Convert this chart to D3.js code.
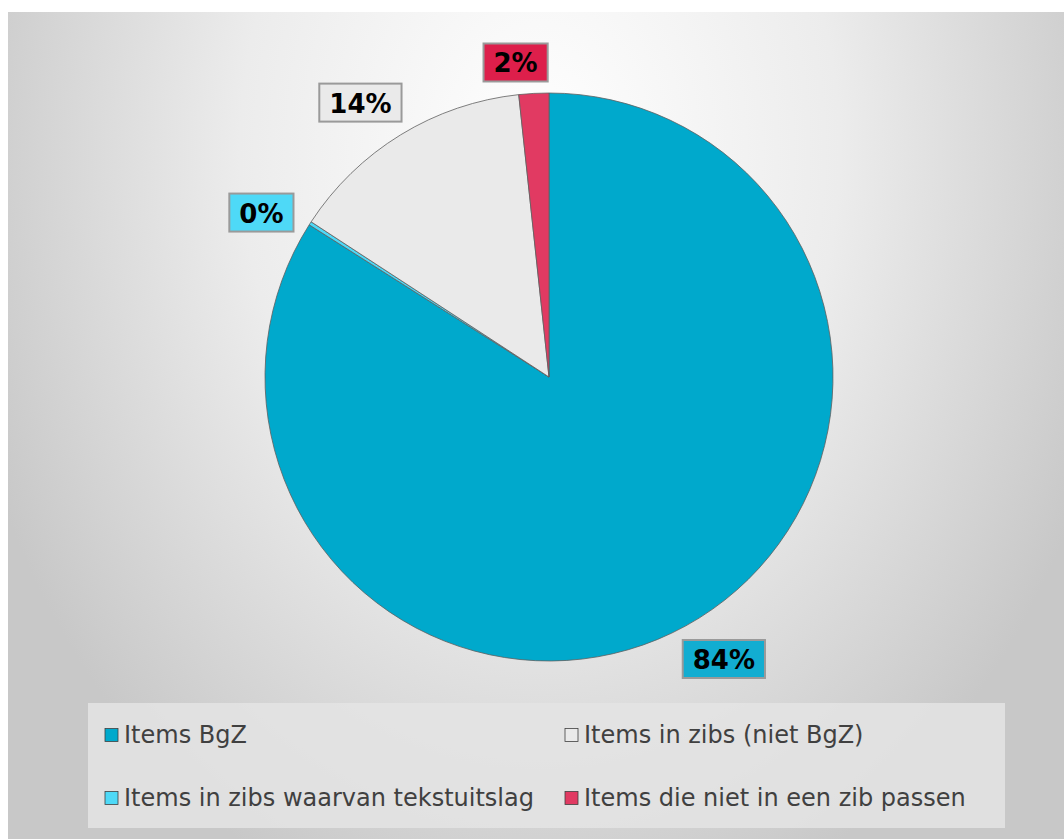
<!DOCTYPE html>
<html>
<head>
<meta charset="utf-8">
<script src="https://cdn.jsdelivr.net/npm/d3@7"></script>
<style>
  html, body { margin: 0; padding: 0; background: #ffffff; }
  svg { display: block; }
</style>
</head>
<body>
<svg id="chart" width="1064" height="839"></svg>
<script>
// ---- data ----
const categories = ["Items BgZ", "Items in zibs waarvan tekstuitslag", "Items in zibs (niet BgZ)", "Items die niet in een zib passen"];
const values = [84.0, 0.2, 14.1, 1.7];
const labels = ["84%", "0%", "14%", "2%"];
const sliceColors = ["#00A9CC", "#4ED9F7", "#EAEAEA", "#E13A62"];
const labelColors = ["#12ADD1", "#4ED9F7", "#EAEAEA", "#DD1F4B"];

const svg = d3.select("#chart");
const W = 1064, H = 839;

// background gradient (elliptical, light at top centre)
const defs = svg.append("defs");
const grad = defs.append("radialGradient").attr("id", "bg")
  .attr("gradientUnits", "userSpaceOnUse")
  .attr("cx", 540).attr("cy", 150).attr("r", 600)
  .attr("gradientTransform", "translate(540,150) scale(1,1.33) translate(-540,-150)");
grad.append("stop").attr("offset", "0").attr("stop-color", "#ffffff");
grad.append("stop").attr("offset", "0.5").attr("stop-color", "#ececec");
grad.append("stop").attr("offset", "1").attr("stop-color", "#c8c8c8");

svg.append("rect").attr("x", 8).attr("y", 12).attr("width", W - 8).attr("height", H - 12)
  .attr("fill", "url(#bg)");

// pie
const cx = 549, cy = 377, R = 284;
const pie = d3.pie().sort(null).value(d => d)(values);
const arc = d3.arc().innerRadius(0).outerRadius(R);
const g = svg.append("g").attr("transform", `translate(${cx},${cy})`);
g.selectAll("path.slice").data(pie).join("path")
  .attr("class", "slice")
  .attr("d", arc)
  .attr("fill", (d, i) => sliceColors[i])
  .attr("stroke", "#5f5f5f")
  .attr("stroke-width", 0.8)
  .attr("stroke-linejoin", "round");

// data labels (outside end)
const font = "'DejaVu Sans', Verdana, sans-serif";
const angleShift = -3 * Math.PI / 180;
const lg = svg.append("g");
pie.forEach((d, i) => {
  const a = (d.startAngle + d.endAngle) / 2 + angleShift;
  const sx = Math.sin(a), sy = -Math.cos(a);
  const t = lg.append("text")
    .attr("font-family", font).attr("font-weight", "bold").attr("font-size", 26)
    .attr("fill", "#000").attr("text-anchor", "middle").attr("dominant-baseline", "central")
    .text(labels[i]);
  const tw = t.node().getComputedTextLength();
  const bw = tw + 20, bh = 38;
  const ext = Math.abs(sx) * bw / 2 + Math.abs(sy) * bh / 2;
  const dist = R + 10 + ext;
  const x = cx + sx * dist, y = cy + sy * dist;
  lg.insert("rect", "text")
    .attr("x", x - bw / 2).attr("y", y - bh / 2).attr("width", bw).attr("height", bh)
    .attr("fill", labelColors[i]).attr("stroke", "#9a9a9a").attr("stroke-width", 2);
  t.attr("x", x).attr("y", y + 1);
  t.raise();
});

// legend
const leg = svg.append("g");
leg.append("rect").attr("x", 88).attr("y", 703).attr("width", 917).attr("height", 125)
  .attr("fill", "#e4e4e4").attr("fill-opacity", 0.85);
const colX = [105, 565];
const rowY = [735, 798];
categories.forEach((c, i) => {
  const col = Math.floor(i / 2), row = i % 2;
  const x = colX[col], y = rowY[row];
  leg.append("rect").attr("x", x).attr("y", y - 6.5).attr("width", 13).attr("height", 13)
    .attr("fill", sliceColors[i]).attr("stroke", "#404040").attr("stroke-width", 0.8);
  leg.append("text").attr("x", x + 19).attr("y", y)
    .attr("dominant-baseline", "central")
    .attr("font-family", font).attr("font-size", 24).attr("fill", "#404040")
    .text(c);
});
</script>
</body>
</html>
